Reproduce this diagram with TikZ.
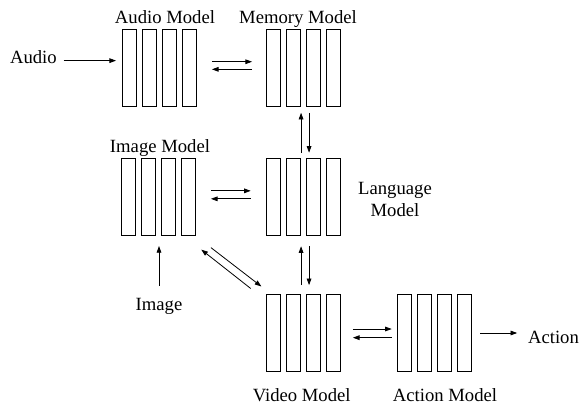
\documentclass[tikz,border=0pt]{standalone}
\usepackage{fontspec}
\setmainfont{Liberation Serif}
\usetikzlibrary{arrows.meta}

\begin{document}
\begin{tikzpicture}[x=0.75pt, y=-0.75pt,
  model/.style={minimum width=55.5pt, minimum height=57.75pt, inner sep=0pt},
  bar/.style={draw, line width=1pt},
  lbl/.style={inner sep=0pt, font=\fontsize{14}{16.5}\selectfont},
  arr/.style={-{Triangle[length=5pt,width=3.5pt]}, line width=0.6pt}]
  \useasboundingbox (0,0) rectangle (586,407);
  \foreach \name/\x/\y in {audio/160/68, memory/304/68, image/159/197.5, lang/304/197.5, video/304/333, action/435/333} {
    \node[model] (\name) at (\x,\y) {};
    \foreach \i in {0,...,3}
      \draw[bar] ([xshift=\i*15pt]\name.north west) rectangle ++(14,77);
  }
  \node[lbl, anchor=base] (audiolbl) at (165,23.3) {Audio Model};
  \node[lbl, anchor=base] (memorylbl) at (298,23.3) {Memory Model};
  \node[lbl, anchor=base] (imagelbl) at (160,152.5) {Image Model};
  \node[lbl, align=center] (langlbl) at (395,199.5) {Language\\Model};
  \node[lbl, anchor=base] (videolbl) at (301.7,401.7) {Video Model};
  \node[lbl, anchor=base] (actionlbl) at (445,401.7) {Action Model};
  \node[lbl, anchor=base] (audiotxt) at (33.4,63.3) {Audio};
  \node[lbl, anchor=base] (actiontxt) at (553.5,343) {Action};
  \node[lbl, anchor=base] (imagetxt) at (159,310) {Image};
  \coordinate (audioin) at ([yshift=2pt]audiotxt.base east);

  \draw[arr, shorten <=5pt, shorten >=5pt] (audioin) -- (audioin -| audio.west);
  \draw[arr, shorten <=11pt, shorten >=11pt] ([yshift=4.7pt]audio.east) -- ([yshift=4.7pt]memory.west);
  \draw[arr, shorten <=11pt, shorten >=11pt] ([yshift=-1pt]memory.west) -- ([yshift=-1pt]audio.east);
  \draw[arr, shorten <=4.5pt, shorten >=4.5pt] ([xshift=-2.2pt]lang.north) -- ([xshift=-2.2pt]memory.south);
  \draw[arr, shorten <=4.5pt, shorten >=4.5pt] ([xshift=3.8pt]memory.south) -- ([xshift=3.8pt]lang.north);
  \draw[arr, shorten <=11pt, shorten >=12pt] ([yshift=5pt]image.east) -- ([yshift=5pt]lang.west);
  \draw[arr, shorten <=12pt, shorten >=11pt] ([yshift=-1pt]lang.west) -- ([yshift=-1pt]image.east);
  \draw[arr, shorten <=6.8pt, shorten >=7.5pt] ([xshift=-2.2pt]video.north) -- ([xshift=-2.2pt]lang.south);
  \draw[arr, shorten <=7.5pt, shorten >=6.8pt] ([xshift=3.8pt]lang.south) -- ([xshift=3.8pt]video.north);
  \draw[arr, shorten <=9pt, shorten >=7.3pt] (imagetxt.north) -- (imagetxt.north |- image.south);
  \draw[arr] ([shift={(11pt,-8.5pt)}]image.south east) -- ([shift={(-4pt,5.8pt)}]video.north west);
  \draw[arr] ([shift={(-12pt,4.3pt)}]video.north west) -- ([shift={(3.75pt,-10pt)}]image.south east);
  \draw[arr, shorten <=8.7pt, shorten >=4.5pt] ([yshift=3pt]video.east) -- ([yshift=3pt]action.west);
  \draw[arr, shorten <=4.5pt, shorten >=8.7pt] ([yshift=-3.5pt]action.west) -- ([yshift=-3.5pt]video.east);
  \draw[arr, shorten <=5.8pt, shorten >=8pt] (action.east) -- (action.east -| actiontxt.west);
\end{tikzpicture}
\end{document}
